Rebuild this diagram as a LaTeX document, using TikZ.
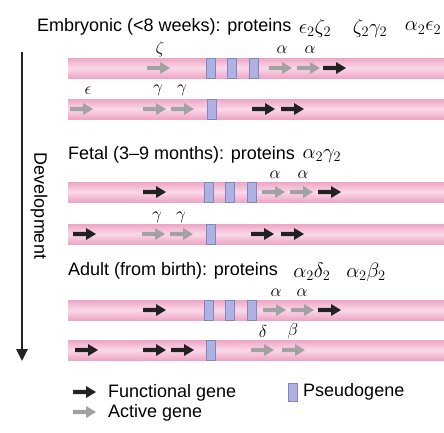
\documentclass[tikz,border=0pt]{standalone}
\usepackage{fontspec}
\setmainfont{Liberation Sans}
\usepackage{tikz}
\usetikzlibrary{arrows.meta, positioning}
\definecolor{chrompink}{HTML}{EEA6C6}
\definecolor{chromlight}{HTML}{FAD8E8}
\definecolor{pseudoblue}{HTML}{AEB2E2}
\definecolor{pseudoedge}{HTML}{7F86C2}
\definecolor{activegray}{HTML}{A2A2A2}
\definecolor{funcblack}{HTML}{222222}

\tikzset{
  chromosome/.style={top color=chrompink, bottom color=chrompink, middle color=chromlight, draw=none},
  pseudogene/.style={fill=pseudoblue, draw=pseudoedge, line width=0.6pt},
  title/.style={font=\fontsize{18}{20}\selectfont, anchor=west, inner sep=0pt},
  legendtext/.style={font=\fontsize{18}{20}\selectfont, anchor=west, inner sep=0pt},
  greek/.style={font=\fontsize{17}{19}\selectfont, inner sep=0pt},
  protein/.style={font=\fontsize{20}{22}\selectfont, inner sep=0pt},
}
%% gene arrow: x, y (centre line), colour
\newcommand{\genearrow}[3]{%
  \fill[#3] (#1,#2-2.2) -- ++(13,0) -- ++(0,-3.8) -- ++(10,6) -- ++(-10,6)
    -- ++(0,-3.8) -- ++(-13,0) -- cycle;}

\begin{document}
\begin{tikzpicture}[x=1pt, y=-1pt]
  \useasboundingbox[fill=white] (0,0) rectangle (444,432);

  %% Chromosomes
  \foreach \y in {68,109,192,234,310,350} {
    \fill[chromosome] (68,\y-10) rectangle (444,\y+10);
  }

  %% Pseudogenes: x/y
  \foreach \x/\y in {206/68, 227/68, 249/68, 207/109,
                     204/192, 225/192, 247/192, 206/234,
                     204/310, 225/310, 247/310, 206/350} {
    \draw[pseudogene] (\x,\y-10) rectangle (\x+9,\y+10);
  }

  %% Active genes (gray)
  \foreach \x/\y in {147/68, 269/68, 297/68,
                     70/109, 143/109, 171/109,
                     262/192, 290/192,
                     142/234, 170/234,
                     263/310, 291/310,
                     251/350, 282/350} {
    \genearrow{\x}{\y}{activegray}
  }
  %% Functional genes (black)
  \foreach \x/\y in {323/68,
                     252/109, 281/109,
                     143/192, 318/192,
                     73/234, 251/234, 281/234,
                     143/310, 318/310,
                     75/350, 143/350, 171/350} {
    \genearrow{\x}{\y}{funcblack}
  }

  %% Gene labels
  \foreach \x/\y/\g in {160/49/\zeta, 282/50/\alpha, 310/50/\alpha,
                        88/91/\epsilon, 158/90/\gamma, 182/90/\gamma,
                        275/175/\alpha, 303/175/\alpha,
                        157/217/\gamma, 181/217/\gamma,
                        276/293/\alpha, 302/293/\alpha,
                        263/331/\delta, 293/331/\beta} {
    \node[greek] at (\x,\y) {$\g$};
  }

  %% Stage titles
  \node[title] (embryo) at (37,27) {Embryonic (<8 weeks): proteins};
  \node[protein] (ez) at (315,28) {$\epsilon_2\zeta_2$};
  \node[protein] (zg) at (370,28) {$\zeta_2\gamma_2$};
  \node[protein] (ae) at (423,28) {$\alpha_2\epsilon_2$};

  \node[title] (fetal) at (68,155) {Fetal (3--9 months): proteins};
  \node[protein] (ag) at (322,156) {$\alpha_2\gamma_2$};

  \node[title] (adult) at (68,271) {Adult (from birth): proteins};
  \node[protein] (ad) at (312,272) {$\alpha_2\delta_2$};
  \node[protein] (ab) at (366,272) {$\alpha_2\beta_2$};

  %% Development axis
  \coordinate (devtop) at (22,52);
  \coordinate (devbot) at (22,361);
  \draw[funcblack, line width=2.8pt, -{Triangle[length=12pt, width=11pt]}] (devtop) -- (devbot);
  \node[legendtext, anchor=center, rotate=-90] (dev) at (39,206) {Development};

  %% Legend
  \genearrow{73}{392}{funcblack}
  \node[legendtext] (func) at (108,393) {Functional gene};
  \genearrow{73}{412}{activegray}
  \node[legendtext] (act) at (108,413) {Active gene};
  \draw[pseudogene] (288,383) rectangle (297,401);
  \node[legendtext] (pse) at (303,392) {Pseudogene};
\end{tikzpicture}
\end{document}
